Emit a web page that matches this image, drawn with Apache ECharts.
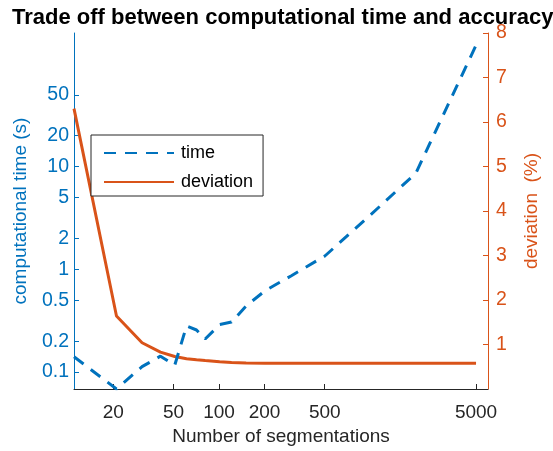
<!DOCTYPE html>
<html>
<head>
<meta charset="utf-8">
<script src="https://cdn.jsdelivr.net/npm/echarts@6/dist/echarts.min.js"></script>
<style>html,body{margin:0;padding:0;background:#fff;}#c{width:553px;height:451px;}</style>
</head>
<body>
<div id="c"></div>
<script>
// ---- data ----
const segments = [11, 21, 31, 41, 51, 61, 71, 81, 101, 121, 151, 201, 301, 501, 1001, 2001, 5001];
const timeSec = [0.141, 0.0685, 0.113, 0.143, 0.117, 0.281, 0.257, 0.21, 0.29, 0.307, 0.44, 0.618, 0.868, 1.35, 3.38, 8.65, 152];
const deviationPct = [6.3, 1.64, 1.04, 0.83, 0.73, 0.68, 0.656, 0.638, 0.611, 0.598, 0.587, 0.58, 0.578, 0.578, 0.578, 0.578, 0.578];
const xTicks = [20, 50, 100, 200, 500, 5000];
const yTimeTicks = [0.1, 0.2, 0.5, 1, 2, 5, 10, 20, 50];
const yDevTicks = [1, 2, 3, 4, 5, 6, 7, 8];

const BLUE = '#0072BD', ORANGE = '#D95319', DARK = '#262626';
const FONT = '"Liberation Sans", Helvetica, Arial, sans-serif';
const lg = Math.log10;

function fmtPow(v) {
  const x = Math.pow(10, v);
  if (x < 1) return String(Math.round(x * 10) / 10);
  return String(Math.round(x));
}

const chart = echarts.init(document.getElementById('c'), null, {renderer: 'canvas'});
chart.setOption({
  animation: false,
  backgroundColor: '#fff',
  textStyle: {fontFamily: FONT},
  title: {
    text: 'Trade off between computational time and accuracy',
    left: 7, top: 2,
    textStyle: {fontFamily: FONT, fontSize: 22, fontWeight: 'bold', color: '#000'}
  },
  grid: {left: 74, right: 65, top: 33, bottom: 62, containLabel: false},
  legend: {
    orient: 'vertical', left: 91, top: 135,
    itemWidth: 70, itemHeight: 14, itemGap: 11,
    padding: [9, 10, 5, 12],
    borderColor: DARK, borderWidth: 1, backgroundColor: '#fff',
    itemStyle: {color: 'rgba(0,0,0,0)', borderWidth: 0, opacity: 0},
    textStyle: {fontFamily: FONT, fontSize: 18, color: '#000', padding: [0, 0, 0, 2]},
    data: ['time', 'deviation']
  },
  xAxis: {
    type: 'value', min: lg(11), max: lg(6000),
    name: 'Number of segmentations', nameLocation: 'middle', nameGap: 37,
    nameTextStyle: {fontFamily: FONT, fontSize: 19, color: DARK},
    axisLine: {show: true, onZero: false, lineStyle: {color: DARK, width: 1}},
    axisTick: {show: true, inside: true, length: 5, customValues: xTicks.map(lg), lineStyle: {color: DARK}},
    axisLabel: {show: true, customValues: xTicks.map(lg), formatter: fmtPow, margin: 14, fontSize: 19, color: DARK, fontFamily: FONT},
    splitLine: {show: false}
  },
  yAxis: [{
    type: 'value', min: lg(0.0685), max: lg(200), position: 'left',
    name: 'computational time (s)', nameLocation: 'middle', nameGap: 44,
    nameTextStyle: {fontFamily: FONT, fontSize: 19, color: BLUE},
    axisLine: {show: true, onZero: false, lineStyle: {color: BLUE, width: 1}},
    axisTick: {show: true, inside: true, length: 5, customValues: yTimeTicks.map(lg), lineStyle: {color: BLUE}},
    axisLabel: {show: true, customValues: yTimeTicks.map(lg), formatter: fmtPow, margin: 5, fontSize: 19.5, color: BLUE, fontFamily: FONT},
    splitLine: {show: false}
  }, {
    type: 'value', min: 0, max: 8, position: 'right',
    name: 'deviation  (%)', nameLocation: 'middle', nameGap: 34,
    nameTextStyle: {fontFamily: FONT, fontSize: 19, color: ORANGE},
    axisLine: {show: true, onZero: false, lineStyle: {color: ORANGE, width: 1}},
    axisTick: {show: true, inside: true, length: 5, customValues: yDevTicks, lineStyle: {color: ORANGE}},
    axisLabel: {show: true, customValues: yDevTicks, margin: 8, fontSize: 19.5, color: ORANGE, fontFamily: FONT},
    splitLine: {show: false}
  }],
  series: [{
    name: 'deviation', type: 'line', yAxisIndex: 1, showSymbol: false, symbol: 'none', z: 2,
    lineStyle: {color: ORANGE, width: 3},
    itemStyle: {color: ORANGE},
    data: segments.map((n, i) => [lg(n), deviationPct[i]])
  }, {
    name: 'time', type: 'line', yAxisIndex: 0, showSymbol: false, symbol: 'none', z: 3,
    lineStyle: {color: BLUE, width: 3, type: [12, 9]},
    itemStyle: {color: BLUE},
    data: segments.map((n, i) => [lg(n), lg(timeSec[i])])
  }]
});
</script>
</body>
</html>
